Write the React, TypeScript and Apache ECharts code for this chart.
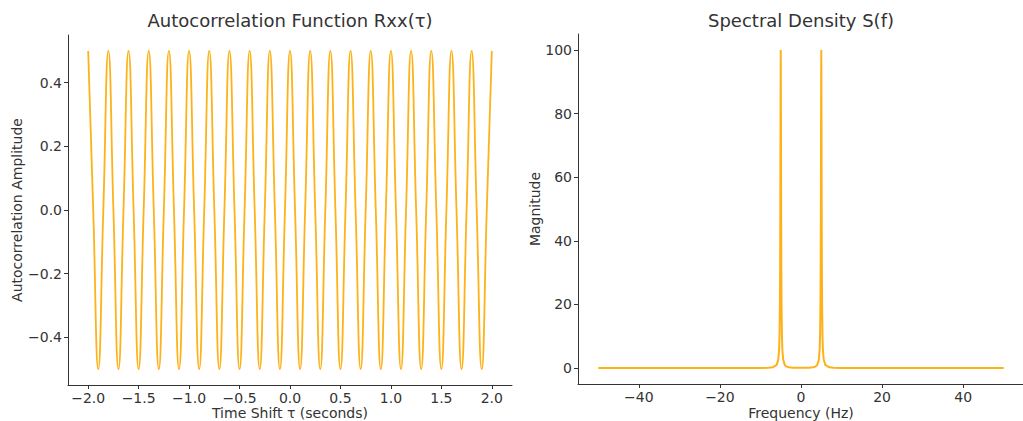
import React, { useEffect, useRef } from "react";
import * as echarts from "echarts";

// Autocorrelation Rxx(τ): time shift (s) and amplitude
const TAU = [
  -2.0, -1.95, -1.9, -1.85, -1.8, -1.75, -1.7, -1.65, -1.6, -1.55,
  -1.5, -1.45, -1.4, -1.35, -1.3, -1.25, -1.2, -1.15, -1.1, -1.05,
  -1.0, -0.95, -0.9, -0.85, -0.8, -0.75, -0.7, -0.65, -0.6, -0.55,
  -0.5, -0.45, -0.4, -0.35, -0.3, -0.25, -0.2, -0.15, -0.1, -0.05,
  0.0, 0.05, 0.1, 0.15, 0.2, 0.25, 0.3, 0.35, 0.4, 0.45,
  0.5, 0.55, 0.6, 0.65, 0.7, 0.75, 0.8, 0.85, 0.9, 0.95,
  1.0, 1.05, 1.1, 1.15, 1.2, 1.25, 1.3, 1.35, 1.4, 1.45,
  1.5, 1.55, 1.6, 1.65, 1.7, 1.75, 1.8, 1.85, 1.9, 1.95,
  2.0,
];
const RXX = [
  0.5, 0, -0.5, 0, 0.5, 0, -0.5, 0, 0.5, 0,
  -0.5, 0, 0.5, 0, -0.5, 0, 0.5, 0, -0.5, 0,
  0.5, 0, -0.5, 0, 0.5, 0, -0.5, 0, 0.5, 0,
  -0.5, 0, 0.5, 0, -0.5, 0, 0.5, 0, -0.5, 0,
  0.5, 0, -0.5, 0, 0.5, 0, -0.5, 0, 0.5, 0,
  -0.5, 0, 0.5, 0, -0.5, 0, 0.5, 0, -0.5, 0,
  0.5, 0, -0.5, 0, 0.5, 0, -0.5, 0, 0.5, 0,
  -0.5, 0, 0.5, 0, -0.5, 0, 0.5, 0, -0.5, 0,
  0.5,
];

// Spectral density S(f): frequency (Hz) and magnitude
const FREQ = [
  -50, -40, -30, -20, -10, -8, -7, -6, -5.6, -5.4, -5.3, -5.2, -5.15, -5.1, -5.05,
  -5, -4.95, -4.9, -4.85, -4.8, -4.7, -4.6, -4.4, -4, -3.5, -3, -2, -1,
  0,
  1, 2, 3, 3.5, 4, 4.4, 4.6, 4.7, 4.8, 4.85, 4.9, 4.95, 5,
  5.05, 5.1, 5.15, 5.2, 5.3, 5.4, 5.6, 6, 7, 8, 10, 20, 30, 40, 50,
];
const MAG = [
  0.001, 0.001, 0.002, 0.005, 0.04, 0.11, 0.25, 1.0, 2.7, 5.9, 10, 20, 31, 50, 80,
  100, 80, 50, 31, 20, 10, 5.9, 2.7, 1.0, 0.45, 0.25, 0.12, 0.09,
  0.08,
  0.09, 0.12, 0.25, 0.45, 1.0, 2.7, 5.9, 10, 20, 31, 50, 80, 100,
  80, 50, 31, 20, 10, 5.9, 2.7, 1.0, 0.25, 0.11, 0.04, 0.005, 0.002, 0.001, 0.001,
];

// Tick labels
const TAU_TICKS = [-2.0, -1.5, -1.0, -0.5, 0.0, 0.5, 1.0, 1.5, 2.0];
const RXX_TICKS = [-0.4, -0.2, 0.0, 0.2, 0.4];
const FREQ_TICKS = [-40, -20, 0, 20, 40];
const MAG_TICKS = [0, 20, 40, 60, 80, 100];

const FONT = "DejaVu Sans";
const TEXT = "#333333";
const LINE = "#FDB219";

const minus = (s: string) => s.replace("-", "\u2212");

function axisCommon(ticks: number[], fmt: (v: number) => string, margin: number) {
  return {
    axisLine: { show: true, onZero: false, lineStyle: { color: TEXT, width: 1 } },
    axisTick: { show: true, inside: false, length: 4, customValues: ticks, lineStyle: { color: TEXT } },
    axisLabel: {
      customValues: ticks,
      formatter: (v: number) => fmt(v),
      color: TEXT,
      fontFamily: FONT,
      fontSize: 14,
      lineHeight: 14,
      margin,
    },
    splitLine: { show: false },
    nameTextStyle: { color: TEXT, fontFamily: FONT, fontSize: 14, lineHeight: 14 },
    nameLocation: "middle" as const,
    nameMoveOverlap: false,
  };
}

export default function App() {
  const ref = useRef<HTMLDivElement>(null);
  useEffect(() => {
    if (!ref.current) return;
    const chart = echarts.init(ref.current, null, { renderer: "svg" });
    const acData = TAU.map((t, i) => [t, RXX[i]]);
    const spData = FREQ.map((f, i) => [f, MAG[i]]);
    chart.setOption({
      animation: false,
      backgroundColor: "#ffffff",
      title: [
        {
          text: "Autocorrelation Function Rxx(τ)",
          left: 290,
          top: 11,
          textAlign: "center",
          padding: 0,
          textStyle: { color: TEXT, fontFamily: FONT, fontSize: 18, fontWeight: "normal" },
        },
        {
          text: "Spectral Density S(f)",
          left: 801,
          top: 11,
          textAlign: "center",
          padding: 0,
          textStyle: { color: TEXT, fontFamily: FONT, fontSize: 18, fontWeight: "normal" },
        },
      ],
      grid: [
        { left: 68, top: 35, width: 444, height: 350, containLabel: false, outerBoundsMode: "none" },
        { left: 578, top: 34, width: 446, height: 350, containLabel: false, outerBoundsMode: "none" },
      ],
      xAxis: [
        {
          type: "value",
          gridIndex: 0,
          min: -2.2,
          max: 2.2,
          name: "Time Shift τ (seconds)",
          nameGap: 21,
          ...axisCommon(TAU_TICKS, (v) => minus(v.toFixed(1)), 6),
        },
        {
          type: "value",
          gridIndex: 1,
          min: -55,
          max: 55,
          name: "Frequency (Hz)",
          nameGap: 22,
          ...axisCommon(FREQ_TICKS, (v) => minus(String(Math.round(v))), 6),
        },
      ],
      yAxis: [
        {
          type: "value",
          gridIndex: 0,
          min: -0.55,
          max: 0.55,
          name: "Autocorrelation Amplitude",
          nameGap: 44,
          ...axisCommon(RXX_TICKS, (v) => minus(v.toFixed(1)), 6),
        },
        {
          type: "value",
          gridIndex: 1,
          min: -5,
          max: 105,
          name: "Magnitude",
          nameGap: 36,
          ...axisCommon(MAG_TICKS, (v) => String(Math.round(v)), 6),
        },
      ],
      series: [
        {
          type: "line",
          xAxisIndex: 0,
          yAxisIndex: 0,
          data: acData,
          smooth: true,
          showSymbol: false,
          lineStyle: { color: LINE, width: 1.8 },
        },
        {
          type: "line",
          xAxisIndex: 1,
          yAxisIndex: 1,
          data: spData,
          showSymbol: false,
          lineStyle: { color: LINE, width: 2 },
        },
      ],
    });
    return () => chart.dispose();
  }, []);
  return (
    <div
      ref={ref}
      style={{ position: "absolute", left: 0, top: 0, width: 1023, height: 421, background: "#fff" }}
    />
  );
}
